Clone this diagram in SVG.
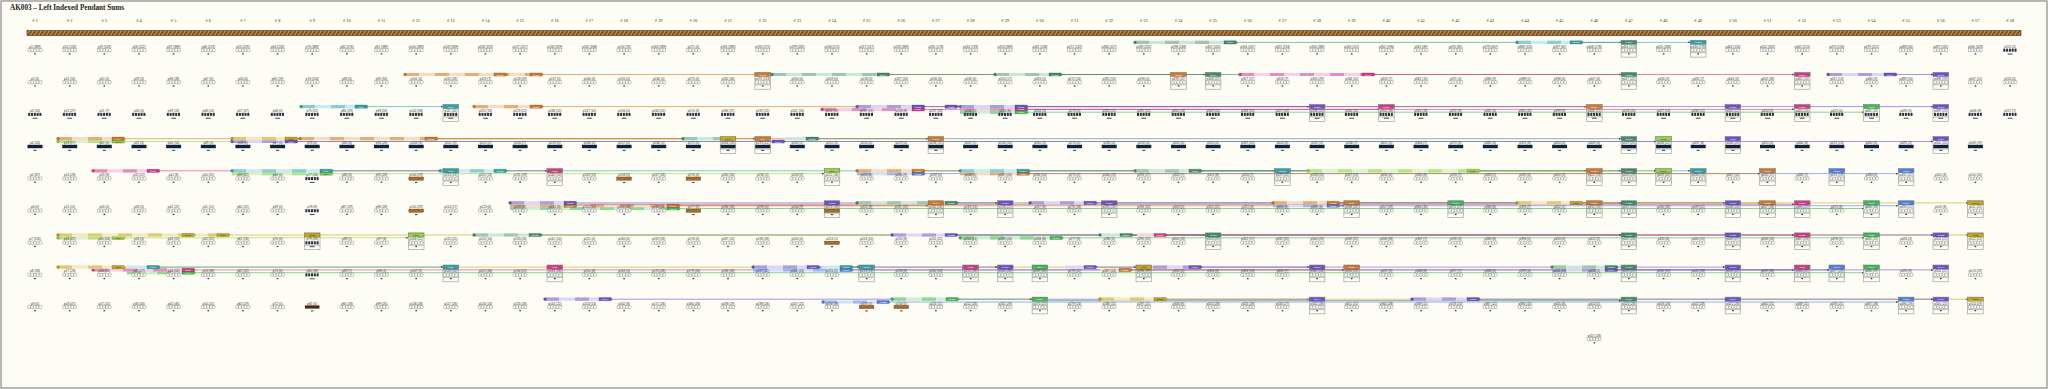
<svg xmlns="http://www.w3.org/2000/svg" xmlns:xlink="http://www.w3.org/1999/xlink" width="2048" height="389" viewBox="0 0 2048 389">
<style>
.ttl{font:bold 7.2px "Liberation Serif",serif;fill:#222}
.hd text{font:4.4px "Liberation Serif",serif;fill:#333;text-anchor:middle}
.r text{font:3.1px "Liberation Sans",sans-serif;fill:#333;text-anchor:middle;dominant-baseline:central}
.cell{fill:#fff;stroke:#555;stroke-width:.35}
.dk{fill:#2a2d3a}
.box{fill:none;stroke:#8a8a8a;stroke-width:.55}
.bd{fill:none;stroke:var(--l);stroke-width:3.2}
.dd{fill:none;stroke:var(--m);stroke-width:3.2;stroke-dasharray:14 16}
.ln{fill:none;stroke:var(--c);stroke-width:.8;stroke-opacity:.75;marker-end:url(#ah)}
.tg{fill:var(--c);stroke:#333;stroke-width:.25}
.tt{font:2.2px "Liberation Sans","DejaVu Sans",sans-serif;fill:#fff;text-anchor:middle;dominant-baseline:central}
.cl .tt,.cy .tt{fill:#222}
.cg{--c:#3d8c6c;--l:#cfe5d9;--m:#9cc8b1}
.ct{--c:#2aa3ad;--l:#c8ebed;--m:#86d0d5}
.co{--c:#d2782a;--l:#f5dcc4;--m:#e6ad78}
.cp{--c:#d8358a;--l:#f7d0e3;--m:#e98cbb}
.cu{--c:#6b4fcf;--l:#ddd6f3;--m:#ab9ce3}
.cl{--c:#92d443;--l:#dcf2c7;--m:#b3e685}
.cy{--c:#c9a61c;--l:#f3e8c0;--m:#e0c970}
.cb{--c:#4b7fe6;--l:#d3e0f8;--m:#9cb9f1}
.cn{--c:#3dbb4f;--l:#cdeed0;--m:#8dd896}
</style>
<defs>
<marker id="ah" viewBox="0 0 4 4" refX="4" refY="2" markerWidth="2.6" markerHeight="2.6" orient="auto"><path d="M0 0L4 2 0 4z" fill="#333"/></marker>
<pattern id="rope" x="0" y="30.5" width="4" height="5" patternUnits="userSpaceOnUse"><rect width="4" height="5" fill="#b98446"/><path d="M-1 6L5-1" stroke="#5a3812" stroke-width="1.2"/></pattern>
<g id="G"><rect class="cell" x="-7" y="1.8" width="2.6" height="3.2" rx=".6"/><rect class="cell" x="-4.2" y="1.8" width="2.6" height="3.2" rx=".6"/><rect class="cell" x="-1.4" y="1.8" width="2.6" height="3.2" rx=".6"/><rect class="cell" x="1.4" y="1.8" width="2.6" height="3.2" rx=".6"/><rect class="cell" x="4.2" y="1.8" width="2.6" height="3.2" rx=".6"/><rect x="-.8" y="6.6" width="1.6" height="1.2" fill="#333"/></g>
<g id="B"><rect class="dk" x="-6.8" y="2" width="2" height="3"/><rect class="dk" x="-4" y="2" width="2" height="3"/><rect class="dk" x="-1.2" y="2" width="2" height="3"/><rect class="dk" x="1.6" y="2" width="2" height="3"/><rect class="dk" x="4.4" y="2" width="2" height="3"/><rect x="-2.4" y="6.8" width="4.8" height="1.1" fill="#555"/></g>
<g id="C"><rect x="-7.5" y="1.8" width="15" height="3.4" fill="#0f2238"/><rect x="-1.5" y="6.8" width="3" height="1.1" fill="#444"/></g>
<g id="R"><rect x="-7.3" y="1.9" width="14.6" height="3.2" fill="#a86a2e" stroke="#5e3914" stroke-width=".4"/><rect x="-1.2" y="6.8" width="2.4" height="1.1" fill="#444"/></g>
<g id="D"><rect x="-7.3" y="1.9" width="14.6" height="3.2" fill="#4a2616"/><rect x="-1.2" y="6.8" width="2.4" height="1.1" fill="#444"/></g>
<g id="X"><rect class="box" x="-7.8" y="-6.4" width="15.6" height="16.8"/><path class="box" d="M-7.8 6H7.8"/></g>
</defs>
<rect x="1" y="1" width="2046" height="387" fill="#fdfdf5" stroke="#a0a0a0" stroke-width="1.5"/>
<text class="ttl" x="10" y="9.5">AK003 – Left Indexed Pendant Sums</text>
<g class="hd" id="headers">
<text x="35" y="21.5"># 1</text><text x="69.7" y="21.5"># 2</text><text x="104.3" y="21.5"># 3</text><text x="139" y="21.5"># 4</text><text x="173.6" y="21.5"># 5</text><text x="208.3" y="21.5"># 6</text><text x="242.9" y="21.5"># 7</text><text x="277.6" y="21.5"># 8</text><text x="312.2" y="21.5"># 9</text><text x="346.9" y="21.5"># 10</text><text x="381.5" y="21.5"># 11</text><text x="416.2" y="21.5"># 12</text><text x="450.8" y="21.5"># 13</text><text x="485.5" y="21.5"># 14</text><text x="520.1" y="21.5"># 15</text><text x="554.8" y="21.5"># 16</text><text x="589.4" y="21.5"># 17</text><text x="624.1" y="21.5"># 18</text><text x="658.7" y="21.5"># 19</text><text x="693.4" y="21.5"># 20</text><text x="728" y="21.5"># 21</text><text x="762.7" y="21.5"># 22</text><text x="797.3" y="21.5"># 23</text><text x="832" y="21.5"># 24</text><text x="866.6" y="21.5"># 25</text><text x="901.3" y="21.5"># 26</text><text x="935.9" y="21.5"># 27</text><text x="970.6" y="21.5"># 28</text><text x="1005.2" y="21.5"># 29</text><text x="1039.9" y="21.5"># 30</text><text x="1074.5" y="21.5"># 31</text><text x="1109.2" y="21.5"># 32</text><text x="1143.8" y="21.5"># 33</text><text x="1178.5" y="21.5"># 34</text><text x="1213.1" y="21.5"># 35</text><text x="1247.8" y="21.5"># 36</text><text x="1282.4" y="21.5"># 37</text><text x="1317.1" y="21.5"># 38</text><text x="1351.7" y="21.5"># 39</text><text x="1386.4" y="21.5"># 40</text><text x="1421" y="21.5"># 41</text><text x="1455.7" y="21.5"># 42</text><text x="1490.3" y="21.5"># 43</text><text x="1525" y="21.5"># 44</text><text x="1559.6" y="21.5"># 45</text><text x="1594.3" y="21.5"># 46</text><text x="1628.9" y="21.5"># 47</text><text x="1663.6" y="21.5"># 48</text><text x="1698.2" y="21.5"># 49</text><text x="1732.9" y="21.5"># 50</text><text x="1767.5" y="21.5"># 51</text><text x="1802.2" y="21.5"># 52</text><text x="1836.8" y="21.5"># 53</text><text x="1871.5" y="21.5"># 54</text><text x="1906.1" y="21.5"># 55</text><text x="1940.8" y="21.5"># 56</text><text x="1975.4" y="21.5"># 57</text><text x="2010.1" y="21.5"># 58</text>
</g>
<rect id="cord" x="27" y="30.5" width="1994" height="5" fill="url(#rope)" stroke="#4a2d0e" stroke-width=".6"/>
<g id="connectors">
<g transform="translate(0 42.4)">
<g class="cg"><path class="bd" d="M1135 0H1224"/><path class="dd" d="M1135 0H1224"/><circle class="tg" cx="1135" r="1.4"/><path class="ln" d="M1237.4 0H1621"/><path class="tg" d="M1224-1.6h12l1.4 1.6-1.4 1.6h-12z"/><text class="tt" x="1230">↦p289</text></g>
<g class="ct"><path class="bd" d="M1517 0H1570"/><path class="dd" d="M1517 0H1570"/><circle class="tg" cx="1517" r="1.4"/><path class="ln" d="M1583.4 0H1690.4"/><path class="tg" d="M1570-1.6h12l1.4 1.6-1.4 1.6h-12z"/><text class="tt" x="1576">↦p388</text></g>
<g class="cg"><rect class="tg" x="1621.1" y="-2" width="15.6" height="4"/><text class="tt" x="1628.9">↦p289</text></g>
<g class="ct"><rect class="tg" x="1690.4" y="-2" width="15.6" height="4"/><text class="tt" x="1698.2">↦p388</text></g>
</g>
<g transform="translate(0 74.5)">
<g class="co"><path class="bd" d="M405 0H530"/><path class="dd" d="M405 0H530"/><circle class="tg" cx="405" r="1.4"/><path class="ln" d="M543.4 0H1170.7"/><path class="tg" d="M494-1.6h12l1.4 1.6-1.4 1.6h-12z"/><text class="tt" x="500">↦p128</text><path class="tg" d="M530-1.6h12l1.4 1.6-1.4 1.6h-12z"/><text class="tt" x="536">↦p137</text></g>
<g class="cg"><path class="bd" d="M772 0H877"/><path class="dd" d="M772 0H877"/><circle class="tg" cx="772" r="1.4"/><path class="ln" d="M890.4 0H1205.3"/><path class="tg" d="M877-1.6h12l1.4 1.6-1.4 1.6h-12z"/><text class="tt" x="883">↦p191</text></g>
<g class="cg"><path class="bd" d="M995 0H1049"/><path class="dd" d="M995 0H1049"/><circle class="tg" cx="995" r="1.4"/><path class="ln" d="M1062.4 0H1621.1"/><path class="tg" d="M1049-1.6h12l1.4 1.6-1.4 1.6h-12z"/><text class="tt" x="1055">↦p263</text></g>
<g class="cp"><path class="bd" d="M1240 0H1362"/><path class="dd" d="M1240 0H1362"/><circle class="tg" cx="1240" r="1.4"/><path class="ln" d="M1375.4 0H1794.4"/><path class="tg" d="M1362-1.6h12l1.4 1.6-1.4 1.6h-12z"/><text class="tt" x="1368">↦p344</text></g>
<g class="cu"><path class="bd" d="M1828 0H1884"/><path class="dd" d="M1828 0H1884"/><circle class="tg" cx="1828" r="1.4"/><path class="ln" d="M1897.4 0H1933"/><path class="tg" d="M1884-1.6h12l1.4 1.6-1.4 1.6h-12z"/><text class="tt" x="1890">↦p480</text></g>
<g class="co"><rect class="tg" x="754.9" y="-2" width="15.6" height="4"/><text class="tt" x="762.7">↦p137</text><rect class="tg" x="1170.7" y="-2" width="15.6" height="4"/><text class="tt" x="1178.5">↦p137</text></g>
<g class="cg"><rect class="tg" x="1205.3" y="-2" width="15.6" height="4"/><text class="tt" x="1213.1">↦p191</text><rect class="tg" x="1621.1" y="-2" width="15.6" height="4"/><text class="tt" x="1628.9">↦p263</text></g>
<g class="cp"><rect class="tg" x="1794.4" y="-2" width="15.6" height="4"/><text class="tt" x="1802.2">↦p344</text></g>
<g class="cu"><rect class="tg" x="1933" y="-2" width="15.6" height="4"/><text class="tt" x="1940.8">↦p480</text></g>
</g>
<g transform="translate(0 106.6)">
<g class="ct"><path class="bd" d="M301 0H355"/><path class="dd" d="M301 0H355"/><circle class="tg" cx="301" r="1.4"/><path class="ln" d="M368.4 0H443"/><path class="tg" d="M355-1.6h12l1.4 1.6-1.4 1.6h-12z"/><text class="tt" x="361">↦p84</text></g>
<g class="co"><path class="bd" d="M474 0H530"/><path class="dd" d="M474 0H530"/><circle class="tg" cx="474" r="1.4"/><path class="ln" d="M543.4 0H1586.5"/><path class="tg" d="M530-1.6h12l1.4 1.6-1.4 1.6h-12z"/><text class="tt" x="536">↦p129</text></g>
<g class="cp" transform="translate(0 2.8)"><path class="bd" d="M822 0H912"/><path class="dd" d="M822 0H912"/><circle class="tg" cx="822" r="1.4"/><path class="ln" d="M925.4 0H1378.6"/><path class="tg" d="M912-1.6h12l1.4 1.6-1.4 1.6h-12z"/><text class="tt" x="918">↦p219</text></g>
<g class="cu"><path class="bd" d="M857 0H912"/><path class="dd" d="M857 0H912"/><circle class="tg" cx="857" r="1.4"/><path class="ln" d="M925.4 0H1309.3"/><path class="tg" d="M912-1.6h12l1.4 1.6-1.4 1.6h-12z"/><text class="tt" x="918">↦p228</text><path class="tg" d="M945-1.6h12l1.4 1.6-1.4 1.6h-12z"/><text class="tt" x="951">↦p237</text></g>
<g class="cp" transform="translate(0 2.8)"><path class="bd" d="M960 0H1015"/><path class="dd" d="M960 0H1015"/><path class="ln" d="M1028.4 0H1794.4"/><path class="tg" d="M1015-1.6h12l1.4 1.6-1.4 1.6h-12z"/><text class="tt" x="1021">↦p255</text></g>
<g class="cn" transform="translate(0 5.6)"><path class="bd" d="M960 0H1015"/><path class="dd" d="M960 0H1015"/><path class="ln" d="M1028.4 0H1863.7"/><path class="tg" d="M1015-1.6h12l1.4 1.6-1.4 1.6h-12z"/><text class="tt" x="1021">↦p264</text></g>
<g class="cu"><path class="bd" d="M960 0H1015"/><path class="dd" d="M960 0H1015"/><circle class="tg" cx="960" r="1.4"/><path class="ln" d="M1028.4 0H1933"/><path class="tg" d="M1015-1.6h12l1.4 1.6-1.4 1.6h-12z"/><text class="tt" x="1021">↦p273</text></g>
<g class="ct"><rect class="tg" x="443" y="-2" width="15.6" height="4"/><text class="tt" x="450.8">↦p84</text></g>
<g class="cu"><rect class="tg" x="1309.3" y="-2" width="15.6" height="4"/><text class="tt" x="1317.1">↦p228</text><rect class="tg" x="1725.1" y="-2" width="15.6" height="4"/><text class="tt" x="1732.9">↦p273</text><rect class="tg" x="1933" y="-2" width="15.6" height="4"/><text class="tt" x="1940.8">↦p273</text></g>
<g class="cp"><rect class="tg" x="1378.6" y="-2" width="15.6" height="4"/><text class="tt" x="1386.4">↦p219</text><rect class="tg" x="1794.4" y="-2" width="15.6" height="4"/><text class="tt" x="1802.2">↦p255</text></g>
<g class="co"><rect class="tg" x="1586.5" y="-2" width="15.6" height="4"/><text class="tt" x="1594.3">↦p129</text></g>
<g class="cn"><rect class="tg" x="1863.7" y="-2" width="15.6" height="4"/><text class="tt" x="1871.5">↦p264</text></g>
</g>
<g transform="translate(0 138.7)">
<g class="cl" transform="translate(0 2.8)"><path class="bd" d="M58 0H112"/><path class="dd" d="M58 0H112"/><circle class="tg" cx="58" r="1.4"/><path class="ln" d="M125.4 0H1655.8"/><path class="tg" d="M112-1.6h12l1.4 1.6-1.4 1.6h-12z"/><text class="tt" x="118">↦p13</text></g>
<g class="cu" transform="translate(0 2.8)"><path class="bd" d="M232 0H285"/><path class="dd" d="M232 0H285"/><circle class="tg" cx="232" r="1.4"/><path class="ln" d="M298.4 0H1933"/><path class="tg" d="M285-1.6h12l1.4 1.6-1.4 1.6h-12z"/><text class="tt" x="291">↦p58</text><path class="tg" d="M772-1.6h12l1.4 1.6-1.4 1.6h-12z"/><text class="tt" x="778">↦p193</text></g>
<g class="co"><path class="bd" d="M58 0H112"/><path class="dd" d="M58 0H112"/><circle class="tg" cx="58" r="1.4"/><path class="ln" d="M125.4 0H754.9"/><path class="tg" d="M112-1.6h12l1.4 1.6-1.4 1.6h-12z"/><text class="tt" x="118">↦p4</text></g>
<g class="cy"><path class="bd" d="M232 0H285"/><path class="dd" d="M232 0H285"/><circle class="tg" cx="232" r="1.4"/><path class="ln" d="M298.4 0H720.2"/><path class="tg" d="M285-1.6h12l1.4 1.6-1.4 1.6h-12z"/><text class="tt" x="291">↦p67</text></g>
<g class="co"><path class="bd" d="M300 0H425"/><path class="dd" d="M300 0H425"/><circle class="tg" cx="300" r="1.4"/><path class="ln" d="M438.4 0H928.1"/><path class="tg" d="M425-1.6h12l1.4 1.6-1.4 1.6h-12z"/><text class="tt" x="431">↦p121</text></g>
<g class="cg"><path class="bd" d="M683 0H720"/><path class="dd" d="M683 0H720"/><circle class="tg" cx="683" r="1.4"/><path class="bd" d="M785 0H806"/><path class="ln" d="M819.4 0H1621.1"/><path class="tg" d="M806-1.6h12l1.4 1.6-1.4 1.6h-12z"/><text class="tt" x="812">↦p202</text></g>
<g class="cy"><rect class="tg" x="720.2" y="-2" width="15.6" height="4"/><text class="tt" x="728">↦p67</text></g>
<g class="co"><rect class="tg" x="754.9" y="-2" width="15.6" height="4"/><text class="tt" x="762.7">↦p4</text><rect class="tg" x="928.1" y="-2" width="15.6" height="4"/><text class="tt" x="935.9">↦p121</text></g>
<g class="cg"><rect class="tg" x="1621.1" y="-2" width="15.6" height="4"/><text class="tt" x="1628.9">↦p202</text></g>
<g class="cl"><rect class="tg" x="1655.8" y="-2" width="15.6" height="4"/><text class="tt" x="1663.6">↦p13</text></g>
<g class="cu"><rect class="tg" x="1725.1" y="-2" width="15.6" height="4"/><text class="tt" x="1732.9">↦p58</text><rect class="tg" x="1933" y="-2" width="15.6" height="4"/><text class="tt" x="1940.8">↦p58</text></g>
</g>
<g transform="translate(0 170.8)">
<g class="cl" transform="translate(0 2.8)"><path class="bd" d="M232 0H320"/><path class="dd" d="M232 0H320"/><path class="ln" d="M333.4 0H824.2"/><path class="tg" d="M320-1.6h12l1.4 1.6-1.4 1.6h-12z"/><text class="tt" x="326">↦p68</text></g>
<g class="cb" transform="translate(0 2.8)"><path class="bd" d="M857 0H912"/><path class="dd" d="M857 0H912"/><path class="ln" d="M925.4 0H1898.3"/><path class="tg" d="M912-1.6h12l1.4 1.6-1.4 1.6h-12z"/><text class="tt" x="918">↦p230</text></g>
<g class="co" transform="translate(0 2.8)"><path class="bd" d="M960 0H1017"/><path class="dd" d="M960 0H1017"/><path class="ln" d="M1030.4 0H1759.7"/><path class="tg" d="M1017-1.6h12l1.4 1.6-1.4 1.6h-12z"/><text class="tt" x="1023">↦p257</text></g>
<g class="cp"><path class="bd" d="M93 0H147"/><path class="dd" d="M93 0H147"/><circle class="tg" cx="93" r="1.4"/><path class="ln" d="M160.4 0H547"/><path class="tg" d="M147-1.6h12l1.4 1.6-1.4 1.6h-12z"/><text class="tt" x="153">↦p23</text></g>
<g class="ct"><path class="bd" d="M232 0H320"/><path class="dd" d="M232 0H320"/><circle class="tg" cx="232" r="1.4"/><path class="ln" d="M333.4 0H443"/><path class="tg" d="M320-1.6h12l1.4 1.6-1.4 1.6h-12z"/><text class="tt" x="326">↦p59</text></g>
<g class="ct"><path class="bd" d="M440 0H494"/><path class="dd" d="M440 0H494"/><circle class="tg" cx="440" r="1.4"/><path class="ln" d="M507.4 0H1274.6"/><path class="tg" d="M494-1.6h12l1.4 1.6-1.4 1.6h-12z"/><text class="tt" x="500">↦p122</text></g>
<g class="co"><path class="bd" d="M857 0H912"/><path class="dd" d="M857 0H912"/><circle class="tg" cx="857" r="1.4"/><path class="ln" d="M925.4 0H1586.5"/><path class="tg" d="M912-1.6h12l1.4 1.6-1.4 1.6h-12z"/><text class="tt" x="918">↦p221</text></g>
<g class="ct"><path class="bd" d="M960 0H1017"/><path class="dd" d="M960 0H1017"/><circle class="tg" cx="960" r="1.4"/><path class="ln" d="M1030.4 0H1690.4"/><path class="tg" d="M1017-1.6h12l1.4 1.6-1.4 1.6h-12z"/><text class="tt" x="1023">↦p248</text></g>
<g class="cg"><path class="bd" d="M1135 0H1189"/><path class="dd" d="M1135 0H1189"/><circle class="tg" cx="1135" r="1.4"/><path class="ln" d="M1202.4 0H1621.1"/><path class="tg" d="M1189-1.6h12l1.4 1.6-1.4 1.6h-12z"/><text class="tt" x="1195">↦p293</text></g>
<g class="cl"><path class="bd" d="M1308 0H1467"/><path class="dd" d="M1308 0H1467"/><circle class="tg" cx="1308" r="1.4"/><path class="ln" d="M1480.4 0H1655.8"/><path class="tg" d="M1467-1.6h12l1.4 1.6-1.4 1.6h-12z"/><text class="tt" x="1473">↦p374</text></g>
<g class="ct"><rect class="tg" x="443" y="-2" width="15.6" height="4"/><text class="tt" x="450.8">↦p59</text><rect class="tg" x="1274.6" y="-2" width="15.6" height="4"/><text class="tt" x="1282.4">↦p122</text><rect class="tg" x="1690.4" y="-2" width="15.6" height="4"/><text class="tt" x="1698.2">↦p248</text></g>
<g class="cp"><rect class="tg" x="547" y="-2" width="15.6" height="4"/><text class="tt" x="554.8">↦p23</text></g>
<g class="cl"><rect class="tg" x="824.2" y="-2" width="15.6" height="4"/><text class="tt" x="832">↦p68</text><rect class="tg" x="1655.8" y="-2" width="15.6" height="4"/><text class="tt" x="1663.6">↦p374</text></g>
<g class="co"><rect class="tg" x="1586.5" y="-2" width="15.6" height="4"/><text class="tt" x="1594.3">↦p221</text><rect class="tg" x="1759.7" y="-2" width="15.6" height="4"/><text class="tt" x="1767.5">↦p257</text></g>
<g class="cg"><rect class="tg" x="1621.1" y="-2" width="15.6" height="4"/><text class="tt" x="1628.9">↦p293</text></g>
<g class="cb"><rect class="tg" x="1829" y="-2" width="15.6" height="4"/><text class="tt" x="1836.8">↦p230</text><rect class="tg" x="1898.3" y="-2" width="15.6" height="4"/><text class="tt" x="1906.1">↦p230</text></g>
</g>
<g transform="translate(0 202.9)">
<g class="cn" transform="translate(0 5.6)"><path class="bd" d="M510 0H667"/><path class="dd" d="M510 0H667"/><path class="ln" d="M680.4 0H1863.7"/><path class="tg" d="M667-1.6h12l1.4 1.6-1.4 1.6h-12z"/><text class="tt" x="673">↦p168</text></g>
<g class="co" transform="translate(0 2.8)"><path class="bd" d="M510 0H564"/><path class="dd" d="M510 0H564"/><path class="ln" d="M577.4 0H928.1"/><path class="tg" d="M564-1.6h12l1.4 1.6-1.4 1.6h-12z"/><text class="tt" x="570">↦p141</text><path class="bd" d="M590 0H667"/><path class="dd" d="M590 0H667"/><path class="ln" d="M680.4 0H1343.9"/><path class="tg" d="M667-1.6h12l1.4 1.6-1.4 1.6h-12z"/><text class="tt" x="673">↦p159</text></g>
<g class="cb" transform="translate(0 2.8)"><path class="bd" d="M1273 0H1327"/><path class="dd" d="M1273 0H1327"/><path class="ln" d="M1340.4 0H1898.3"/><path class="tg" d="M1327-1.6h12l1.4 1.6-1.4 1.6h-12z"/><text class="tt" x="1333">↦p339</text></g>
<g class="cp" transform="translate(0 1.4)"><path class="ln" d="M577.4 0H1794.4"/></g>
<g class="cu"><path class="bd" d="M510 0H564"/><path class="dd" d="M510 0H564"/><circle class="tg" cx="510" r="1.4"/><path class="ln" d="M577.4 0H997.4"/><path class="tg" d="M564-1.6h12l1.4 1.6-1.4 1.6h-12z"/><text class="tt" x="570">↦p132</text></g>
<g class="cg"><path class="bd" d="M857 0H945"/><path class="dd" d="M857 0H945"/><circle class="tg" cx="857" r="1.4"/><path class="ln" d="M958.4 0H1621.1"/><path class="tg" d="M945-1.6h12l1.4 1.6-1.4 1.6h-12z"/><text class="tt" x="951">↦p222</text></g>
<g class="cu"><path class="bd" d="M1030 0H1084"/><path class="dd" d="M1030 0H1084"/><circle class="tg" cx="1030" r="1.4"/><path class="ln" d="M1097.4 0H1725.1"/><path class="tg" d="M1084-1.6h12l1.4 1.6-1.4 1.6h-12z"/><text class="tt" x="1090">↦p267</text></g>
<g class="co"><path class="bd" d="M1273 0H1327"/><path class="dd" d="M1273 0H1327"/><circle class="tg" cx="1273" r="1.4"/><path class="ln" d="M1340.4 0H1759.7"/><path class="tg" d="M1327-1.6h12l1.4 1.6-1.4 1.6h-12z"/><text class="tt" x="1333">↦p330</text></g>
<g class="cy"><path class="bd" d="M1517 0H1570"/><path class="dd" d="M1517 0H1570"/><circle class="tg" cx="1517" r="1.4"/><path class="ln" d="M1583.4 0H1967.6"/><path class="tg" d="M1570-1.6h12l1.4 1.6-1.4 1.6h-12z"/><text class="tt" x="1576">↦p393</text></g>
<g class="cu"><rect class="tg" x="824.2" y="-2" width="15.6" height="4"/><text class="tt" x="832">↦p132</text><rect class="tg" x="997.4" y="-2" width="15.6" height="4"/><text class="tt" x="1005.2">↦p132</text><rect class="tg" x="1101.4" y="-2" width="15.6" height="4"/><text class="tt" x="1109.2">↦p267</text><rect class="tg" x="1725.1" y="-2" width="15.6" height="4"/><text class="tt" x="1732.9">↦p267</text></g>
<g class="co"><rect class="tg" x="928.1" y="-2" width="15.6" height="4"/><text class="tt" x="935.9">↦p141</text><rect class="tg" x="1343.9" y="-2" width="15.6" height="4"/><text class="tt" x="1351.7">↦p159</text><rect class="tg" x="1586.5" y="-2" width="15.6" height="4"/><text class="tt" x="1594.3">↦p330</text><rect class="tg" x="1759.7" y="-2" width="15.6" height="4"/><text class="tt" x="1767.5">↦p330</text></g>
<g class="cn"><rect class="tg" x="1447.9" y="-2" width="15.6" height="4"/><text class="tt" x="1455.7">↦p168</text><rect class="tg" x="1863.7" y="-2" width="15.6" height="4"/><text class="tt" x="1871.5">↦p168</text></g>
<g class="cg"><rect class="tg" x="1621.1" y="-2" width="15.6" height="4"/><text class="tt" x="1628.9">↦p222</text></g>
<g class="cp"><rect class="tg" x="1794.4" y="-2" width="15.6" height="4"/><text class="tt" x="1802.2">↦p150</text></g>
<g class="cb"><rect class="tg" x="1898.3" y="-2" width="15.6" height="4"/><text class="tt" x="1906.1">↦p339</text></g>
<g class="cy"><rect class="tg" x="1967.6" y="-2" width="15.6" height="4"/><text class="tt" x="1975.4">↦p393</text></g>
</g>
<g transform="translate(0 235)">
<g class="cl" transform="translate(0 2.8)"><path class="bd" d="M58 0H112"/><path class="dd" d="M58 0H112"/><circle class="tg" cx="58" r="1.4"/><path class="ln" d="M125.4 0H408.4"/><path class="tg" d="M112-1.6h12l1.4 1.6-1.4 1.6h-12z"/><text class="tt" x="118">↦p16</text></g>
<g class="cn" transform="translate(0 2.8)"><path class="bd" d="M960 0H1050"/><path class="dd" d="M960 0H1050"/><circle class="tg" cx="960" r="1.4"/><path class="ln" d="M1063.4 0H1863.7"/><path class="tg" d="M1050-1.6h12l1.4 1.6-1.4 1.6h-12z"/><text class="tt" x="1056">↦p259</text></g>
<g class="cy"><path class="bd" d="M58 0H217"/><path class="dd" d="M58 0H217"/><circle class="tg" cx="58" r="1.4"/><path class="ln" d="M230.4 0H1967.6"/><path class="tg" d="M182-1.6h12l1.4 1.6-1.4 1.6h-12z"/><text class="tt" x="188">↦p43</text><path class="tg" d="M217-1.6h12l1.4 1.6-1.4 1.6h-12z"/><text class="tt" x="223">↦p52</text></g>
<g class="cg"><path class="bd" d="M474 0H529"/><path class="dd" d="M474 0H529"/><circle class="tg" cx="474" r="1.4"/><path class="ln" d="M542.4 0H1205.3"/><path class="tg" d="M529-1.6h12l1.4 1.6-1.4 1.6h-12z"/><text class="tt" x="535">↦p133</text></g>
<g class="cu"><path class="bd" d="M892 0H945"/><path class="dd" d="M892 0H945"/><circle class="tg" cx="892" r="1.4"/><path class="ln" d="M958.4 0H1933"/><path class="tg" d="M945-1.6h12l1.4 1.6-1.4 1.6h-12z"/><text class="tt" x="951">↦p232</text></g>
<g class="cg"><path class="bd" d="M1100 0H1120"/><circle class="tg" cx="1100" r="1.4"/><path class="ln" d="M1133.4 0H1621.1"/><path class="tg" d="M1120-1.6h12l1.4 1.6-1.4 1.6h-12z"/><text class="tt" x="1126">↦p286</text></g>
<g class="cp"><path class="bd" d="M1137 0H1154"/><path class="ln" d="M1167.4 0H1794.4"/><path class="tg" d="M1154-1.6h12l1.4 1.6-1.4 1.6h-12z"/><text class="tt" x="1160">↦p295</text></g>
<g class="cy"><rect class="tg" x="304.4" y="-2" width="15.6" height="4"/><text class="tt" x="312.2">↦p52</text><rect class="tg" x="1967.6" y="-2" width="15.6" height="4"/><text class="tt" x="1975.4">↦p52</text></g>
<g class="cl"><rect class="tg" x="408.4" y="-2" width="15.6" height="4"/><text class="tt" x="416.2">↦p16</text></g>
<g class="cg"><rect class="tg" x="1205.3" y="-2" width="15.6" height="4"/><text class="tt" x="1213.1">↦p133</text><rect class="tg" x="1621.1" y="-2" width="15.6" height="4"/><text class="tt" x="1628.9">↦p286</text></g>
<g class="cu"><rect class="tg" x="1725.1" y="-2" width="15.6" height="4"/><text class="tt" x="1732.9">↦p232</text><rect class="tg" x="1933" y="-2" width="15.6" height="4"/><text class="tt" x="1940.8">↦p232</text></g>
<g class="cp"><rect class="tg" x="1794.4" y="-2" width="15.6" height="4"/><text class="tt" x="1802.2">↦p295</text></g>
<g class="cn"><rect class="tg" x="1863.7" y="-2" width="15.6" height="4"/><text class="tt" x="1871.5">↦p259</text></g>
</g>
<g transform="translate(0 267.1)">
<g class="cn" transform="translate(0 5.6)"><path class="bd" d="M127 0H182"/><path class="dd" d="M127 0H182"/><path class="ln" d="M195.4 0H1863.7"/><path class="tg" d="M182-1.6h12l1.4 1.6-1.4 1.6h-12z"/><text class="tt" x="188">↦p44</text></g>
<g class="cp" transform="translate(0 2.8)"><path class="bd" d="M93 0H182"/><path class="dd" d="M93 0H182"/><circle class="tg" cx="93" r="1.4"/><path class="ln" d="M195.4 0H1794.4"/><path class="tg" d="M182-1.6h12l1.4 1.6-1.4 1.6h-12z"/><text class="tt" x="188">↦p35</text></g>
<g class="cb" transform="translate(0 2.8)"><path class="bd" d="M753 0H840"/><path class="dd" d="M753 0H840"/><path class="ln" d="M853.4 0H1829"/><path class="tg" d="M840-1.6h12l1.4 1.6-1.4 1.6h-12z"/><text class="tt" x="846">↦p197</text></g>
<g class="co" transform="translate(0 2.8)"><path class="bd" d="M1100 0H1119"/><path class="ln" d="M1132.4 0H1343.9"/><path class="tg" d="M1119-1.6h12l1.4 1.6-1.4 1.6h-12z"/><text class="tt" x="1125">↦p287</text></g>
<g class="cu" transform="translate(0 2.8)"><path class="bd" d="M1552 0H1605"/><path class="dd" d="M1552 0H1605"/><path class="ln" d="M1618.4 0H1933"/><path class="tg" d="M1605-1.6h12l1.4 1.6-1.4 1.6h-12z"/><text class="tt" x="1611">↦p404</text></g>
<g class="cy"><path class="bd" d="M58 0H112"/><path class="dd" d="M58 0H112"/><circle class="tg" cx="58" r="1.4"/><path class="ln" d="M125.4 0H1136"/><path class="tg" d="M112-1.6h12l1.4 1.6-1.4 1.6h-12z"/><text class="tt" x="118">↦p17</text></g>
<g class="ct"><path class="bd" d="M127 0H147"/><path class="ln" d="M160.4 0H443"/><path class="tg" d="M147-1.6h12l1.4 1.6-1.4 1.6h-12z"/><text class="tt" x="153">↦p26</text></g>
<g class="cu"><path class="bd" d="M753 0H807"/><path class="dd" d="M753 0H807"/><circle class="tg" cx="753" r="1.4"/><path class="ln" d="M820.4 0H997.4"/><path class="tg" d="M807-1.6h12l1.4 1.6-1.4 1.6h-12z"/><text class="tt" x="813">↦p188</text></g>
<g class="ct"><path class="bd" d="M822 0H840"/><path class="ln" d="M853.4 0H858.8"/><path class="tg" d="M840-1.6h12l1.4 1.6-1.4 1.6h-12z"/><text class="tt" x="846">↦p206</text></g>
<g class="cu"><path class="bd" d="M1065 0H1084"/><path class="ln" d="M1097.4 0H1309.3"/><path class="tg" d="M1084-1.6h12l1.4 1.6-1.4 1.6h-12z"/><text class="tt" x="1090">↦p278</text></g>
<g class="cu"><path class="bd" d="M1153 0H1189"/><path class="dd" d="M1153 0H1189"/><path class="ln" d="M1202.4 0H1725.1"/><path class="tg" d="M1189-1.6h12l1.4 1.6-1.4 1.6h-12z"/><text class="tt" x="1195">↦p296</text></g>
<g class="cg"><path class="bd" d="M1552 0H1605"/><path class="dd" d="M1552 0H1605"/><circle class="tg" cx="1552" r="1.4"/><path class="tg" d="M1605-1.6h12l1.4 1.6-1.4 1.6h-12z"/><text class="tt" x="1611">↦p395</text></g>
<g class="ct"><rect class="tg" x="443" y="-2" width="15.6" height="4"/><text class="tt" x="450.8">↦p26</text><rect class="tg" x="858.8" y="-2" width="15.6" height="4"/><text class="tt" x="866.6">↦p206</text></g>
<g class="cp"><rect class="tg" x="547" y="-2" width="15.6" height="4"/><text class="tt" x="554.8">↦p35</text><rect class="tg" x="962.8" y="-2" width="15.6" height="4"/><text class="tt" x="970.6">↦p35</text><rect class="tg" x="1794.4" y="-2" width="15.6" height="4"/><text class="tt" x="1802.2">↦p35</text></g>
<g class="cu"><rect class="tg" x="997.4" y="-2" width="15.6" height="4"/><text class="tt" x="1005.2">↦p188</text><rect class="tg" x="1309.3" y="-2" width="15.6" height="4"/><text class="tt" x="1317.1">↦p278</text><rect class="tg" x="1725.1" y="-2" width="15.6" height="4"/><text class="tt" x="1732.9">↦p296</text><rect class="tg" x="1933" y="-2" width="15.6" height="4"/><text class="tt" x="1940.8">↦p404</text></g>
<g class="cn"><rect class="tg" x="1032.1" y="-2" width="15.6" height="4"/><text class="tt" x="1039.9">↦p44</text><rect class="tg" x="1863.7" y="-2" width="15.6" height="4"/><text class="tt" x="1871.5">↦p44</text></g>
<g class="cy"><rect class="tg" x="1136" y="-2" width="15.6" height="4"/><text class="tt" x="1143.8">↦p17</text></g>
<g class="co"><rect class="tg" x="1343.9" y="-2" width="15.6" height="4"/><text class="tt" x="1351.7">↦p287</text></g>
<g class="cg"><rect class="tg" x="1621.1" y="-2" width="15.6" height="4"/><text class="tt" x="1628.9">↦p395</text></g>
<g class="cb"><rect class="tg" x="1829" y="-2" width="15.6" height="4"/><text class="tt" x="1836.8">↦p197</text></g>
</g>
<g transform="translate(0 299.2)">
<g class="cb" transform="translate(0 2.8)"><path class="bd" d="M823 0H877"/><path class="dd" d="M823 0H877"/><circle class="tg" cx="823" r="1.4"/><path class="ln" d="M890.4 0H1898.3"/><path class="tg" d="M877-1.6h12l1.4 1.6-1.4 1.6h-12z"/><text class="tt" x="883">↦p225</text></g>
<g class="cg" transform="translate(0 1.4)"><path class="ln" d="M1048 0H1621.1"/></g>
<g class="cu"><path class="bd" d="M545 0H599"/><path class="dd" d="M545 0H599"/><circle class="tg" cx="545" r="1.4"/><path class="ln" d="M612.4 0H1309.3"/><path class="tg" d="M599-1.6h12l1.4 1.6-1.4 1.6h-12z"/><text class="tt" x="605">↦p144</text></g>
<g class="cn"><path class="bd" d="M892 0H946"/><path class="dd" d="M892 0H946"/><circle class="tg" cx="892" r="1.4"/><path class="ln" d="M959.4 0H1032.1"/><path class="tg" d="M946-1.6h12l1.4 1.6-1.4 1.6h-12z"/><text class="tt" x="952">↦p234</text></g>
<g class="cy"><path class="bd" d="M1100 0H1154"/><path class="dd" d="M1100 0H1154"/><circle class="tg" cx="1100" r="1.4"/><path class="ln" d="M1167.4 0H1967.6"/><path class="tg" d="M1154-1.6h12l1.4 1.6-1.4 1.6h-12z"/><text class="tt" x="1160">↦p288</text></g>
<g class="cu"><path class="bd" d="M1412 0H1467"/><path class="dd" d="M1412 0H1467"/><circle class="tg" cx="1412" r="1.4"/><path class="ln" d="M1480.4 0H1933"/><path class="tg" d="M1467-1.6h12l1.4 1.6-1.4 1.6h-12z"/><text class="tt" x="1473">↦p369</text></g>
<g class="cn"><rect class="tg" x="1032.1" y="-2" width="15.6" height="4"/><text class="tt" x="1039.9">↦p234</text></g>
<g class="cu"><rect class="tg" x="1309.3" y="-2" width="15.6" height="4"/><text class="tt" x="1317.1">↦p144</text><rect class="tg" x="1725.1" y="-2" width="15.6" height="4"/><text class="tt" x="1732.9">↦p369</text><rect class="tg" x="1933" y="-2" width="15.6" height="4"/><text class="tt" x="1940.8">↦p369</text></g>
<g class="cg"><rect class="tg" x="1621.1" y="-2" width="15.6" height="4"/><text class="tt" x="1628.9">↦p270</text></g>
<g class="cb"><rect class="tg" x="1898.3" y="-2" width="15.6" height="4"/><text class="tt" x="1906.1">↦p225</text></g>
<g class="cy"><rect class="tg" x="1967.6" y="-2" width="15.6" height="4"/><text class="tt" x="1975.4">↦p288</text></g>
</g>
</g>
<g id="nodes">
<g class="r" id="row1" transform="translate(0 46.7)">
<g id="p1" transform="translate(35)"><use href="#G"/><text>p1 (389)</text></g>
<g id="p10" transform="translate(69.7)"><use href="#G"/><text>p10 (218)</text></g>
<g id="p19" transform="translate(104.3)"><use href="#G"/><text>p19 (149)</text></g>
<g id="p28" transform="translate(139)"><use href="#G"/><text>p28 (222)</text></g>
<g id="p37" transform="translate(173.6)"><use href="#G"/><text>p37 (389)</text></g>
<g id="p46" transform="translate(208.3)"><use href="#G"/><text>p46 (219)</text></g>
<g id="p55" transform="translate(242.9)"><use href="#G"/><text>p55 (229)</text></g>
<g id="p64" transform="translate(277.6)"><use href="#G"/><text>p64 (218)</text></g>
<g id="p73" transform="translate(312.2)"><use href="#G"/><text>p73 (389)</text></g>
<g id="p82" transform="translate(346.9)"><use href="#G"/><text>p82 (278)</text></g>
<g id="p91" transform="translate(381.5)"><use href="#G"/><text>p91 (389)</text></g>
<g id="p100" transform="translate(416.2)"><use href="#G"/><text>p100 (389)</text></g>
<g id="p109" transform="translate(450.8)"><use href="#G"/><text>p109 (389)</text></g>
<g id="p118" transform="translate(485.5)"><use href="#G"/><text>p118 (373)</text></g>
<g id="p127" transform="translate(520.1)"><use href="#G"/><text>p127 (217)</text></g>
<g id="p136" transform="translate(554.8)"><use href="#G"/><text>p136 (329)</text></g>
<g id="p145" transform="translate(589.4)"><use href="#G"/><text>p145 (188)</text></g>
<g id="p154" transform="translate(624.1)"><use href="#G"/><text>p154 (76)</text></g>
<g id="p163" transform="translate(658.7)"><use href="#G"/><text>p163 (389)</text></g>
<g id="p172" transform="translate(693.4)"><use href="#G"/><text>p172 (0)</text></g>
<g id="p181" transform="translate(728)"><use href="#G"/><text>p181 (389)</text></g>
<g id="p190" transform="translate(762.7)"><use href="#G"/><text>p190 (272)</text></g>
<g id="p199" transform="translate(797.3)"><use href="#G"/><text>p199 (282)</text></g>
<g id="p208" transform="translate(832)"><use href="#G"/><text>p208 (172)</text></g>
<g id="p217" transform="translate(866.6)"><use href="#G"/><text>p217 (117)</text></g>
<g id="p226" transform="translate(901.3)"><use href="#G"/><text>p226 (389)</text></g>
<g id="p235" transform="translate(935.9)"><use href="#G"/><text>p235 (178)</text></g>
<g id="p244" transform="translate(970.6)"><use href="#G"/><text>p244 (178)</text></g>
<g id="p253" transform="translate(1005.2)"><use href="#G"/><text>p253 (389)</text></g>
<g id="p262" transform="translate(1039.9)"><use href="#G"/><text>p262 (248)</text></g>
<g id="p271" transform="translate(1074.5)"><use href="#G"/><text>p271 (132)</text></g>
<g id="p280" transform="translate(1109.2)"><use href="#G"/><text>p280 (117)</text></g>
<g id="p289" transform="translate(1143.8)"><use href="#G"/><text>p289 (232)</text></g>
<g id="p298" transform="translate(1178.5)"><use href="#G"/><text>p298 (248)</text></g>
<g id="p307" transform="translate(1213.1)"><use href="#G"/><text>p307 (232)</text></g>
<g id="p316" transform="translate(1247.8)"><use href="#G"/><text>p316 (267)</text></g>
<g id="p325" transform="translate(1282.4)"><use href="#G"/><text>p325 (233)</text></g>
<g id="p334" transform="translate(1317.1)"><use href="#G"/><text>p334 (288)</text></g>
<g id="p343" transform="translate(1351.7)"><use href="#G"/><text>p343 (112)</text></g>
<g id="p352" transform="translate(1386.4)"><use href="#G"/><text>p352 (296)</text></g>
<g id="p361" transform="translate(1421)"><use href="#G"/><text>p361 (89)</text></g>
<g id="p370" transform="translate(1455.7)"><use href="#G"/><text>p370 (85)</text></g>
<g id="p379" transform="translate(1490.3)"><use href="#G"/><text>p379 (267)</text></g>
<g id="p388" transform="translate(1525)"><use href="#G"/><text>p388 (113)</text></g>
<g id="p397" transform="translate(1559.6)"><use href="#G"/><text>p397 (82)</text></g>
<g id="p406" transform="translate(1594.3)"><use href="#G"/><text>p406 (178)</text></g>
<g id="p416" transform="translate(1628.9)"><use href="#X"/><use href="#G"/><text>p416 (213)</text></g>
<g id="p425" transform="translate(1663.6)"><use href="#G"/><text>p425 (288)</text></g>
<g id="p434" transform="translate(1698.2)"><use href="#X"/><use href="#G"/><text>p434 (178)</text></g>
<g id="p443" transform="translate(1732.9)"><use href="#G"/><text>p443 (126)</text></g>
<g id="p452" transform="translate(1767.5)"><use href="#G"/><text>p452 (182)</text></g>
<g id="p461" transform="translate(1802.2)"><use href="#G"/><text>p461 (213)</text></g>
<g id="p470" transform="translate(1836.8)"><use href="#G"/><text>p470 (158)</text></g>
<g id="p479" transform="translate(1871.5)"><use href="#G"/><text>p479 (221)</text></g>
<g id="p488" transform="translate(1906.1)"><use href="#G"/><text>p488 (56)</text></g>
<g id="p497" transform="translate(1940.8)"><use href="#G"/><text>p497 (181)</text></g>
<g id="p506" transform="translate(1975.4)"><use href="#G"/><text>p506 (329)</text></g>
<g id="p515" transform="translate(2010.1)"><use href="#B"/><text>p515 (0)</text></g>
</g>
<g class="r" id="row2" transform="translate(0 78.8)">
<g id="p2" transform="translate(35)"><use href="#G"/><text>p2 (0)</text></g>
<g id="p11" transform="translate(69.7)"><use href="#G"/><text>p11 (14)</text></g>
<g id="p20" transform="translate(104.3)"><use href="#G"/><text>p20 (0)</text></g>
<g id="p29" transform="translate(139)"><use href="#G"/><text>p29 (0)</text></g>
<g id="p38" transform="translate(173.6)"><use href="#G"/><text>p38 (28)</text></g>
<g id="p47" transform="translate(208.3)"><use href="#G"/><text>p47 (0)</text></g>
<g id="p56" transform="translate(242.9)"><use href="#G"/><text>p56 (0)</text></g>
<g id="p65" transform="translate(277.6)"><use href="#G"/><text>p65 (19)</text></g>
<g id="p74" transform="translate(312.2)"><use href="#G"/><text>p74 (116)</text></g>
<g id="p83" transform="translate(346.9)"><use href="#G"/><text>p83 (0)</text></g>
<g id="p92" transform="translate(381.5)"><use href="#G"/><text>p92 (34)</text></g>
<g id="p101" transform="translate(416.2)"><use href="#G"/><text>p101 (0)</text></g>
<g id="p110" transform="translate(450.8)"><use href="#G"/><text>p110 (28)</text></g>
<g id="p119" transform="translate(485.5)"><use href="#G"/><text>p119 (7)</text></g>
<g id="p128" transform="translate(520.1)"><use href="#G"/><text>p128 (29)</text></g>
<g id="p137" transform="translate(554.8)"><use href="#G"/><text>p137 (0)</text></g>
<g id="p146" transform="translate(589.4)"><use href="#G"/><text>p146 (0)</text></g>
<g id="p155" transform="translate(624.1)"><use href="#G"/><text>p155 (0)</text></g>
<g id="p164" transform="translate(658.7)"><use href="#G"/><text>p164 (0)</text></g>
<g id="p173" transform="translate(693.4)"><use href="#G"/><text>p173 (0)</text></g>
<g id="p182" transform="translate(728)"><use href="#G"/><text>p182 (26)</text></g>
<g id="p191" transform="translate(762.7)"><use href="#X"/><use href="#G"/><text>p191 (113)</text></g>
<g id="p200" transform="translate(797.3)"><use href="#G"/><text>p200 (0)</text></g>
<g id="p209" transform="translate(832)"><use href="#G"/><text>p209 (0)</text></g>
<g id="p218" transform="translate(866.6)"><use href="#G"/><text>p218 (0)</text></g>
<g id="p227" transform="translate(901.3)"><use href="#G"/><text>p227 (24)</text></g>
<g id="p236" transform="translate(935.9)"><use href="#G"/><text>p236 (6)</text></g>
<g id="p245" transform="translate(970.6)"><use href="#G"/><text>p245 (4)</text></g>
<g id="p254" transform="translate(1005.2)"><use href="#G"/><text>p254 (17)</text></g>
<g id="p263" transform="translate(1039.9)"><use href="#G"/><text>p263 (0)</text></g>
<g id="p272" transform="translate(1074.5)"><use href="#G"/><text>p272 (14)</text></g>
<g id="p281" transform="translate(1109.2)"><use href="#G"/><text>p281 (13)</text></g>
<g id="p290" transform="translate(1143.8)"><use href="#G"/><text>p290 (0)</text></g>
<g id="p299" transform="translate(1178.5)"><use href="#X"/><use href="#G"/><text>p299 (22)</text></g>
<g id="p308" transform="translate(1213.1)"><use href="#X"/><use href="#G"/><text>p308 (22)</text></g>
<g id="p317" transform="translate(1247.8)"><use href="#G"/><text>p317 (17)</text></g>
<g id="p326" transform="translate(1282.4)"><use href="#G"/><text>p326 (7)</text></g>
<g id="p335" transform="translate(1317.1)"><use href="#G"/><text>p335 (29)</text></g>
<g id="p344" transform="translate(1351.7)"><use href="#G"/><text>p344 (11)</text></g>
<g id="p353" transform="translate(1386.4)"><use href="#G"/><text>p353 (7)</text></g>
<g id="p362" transform="translate(1421)"><use href="#G"/><text>p362 (13)</text></g>
<g id="p371" transform="translate(1455.7)"><use href="#G"/><text>p371 (0)</text></g>
<g id="p380" transform="translate(1490.3)"><use href="#G"/><text>p380 (9)</text></g>
<g id="p389" transform="translate(1525)"><use href="#G"/><text>p389 (1)</text></g>
<g id="p398" transform="translate(1559.6)"><use href="#G"/><text>p398 (4)</text></g>
<g id="p407" transform="translate(1594.3)"><use href="#G"/><text>p407 (4)</text></g>
<g id="p417" transform="translate(1628.9)"><use href="#X"/><use href="#G"/><text>p417 (22)</text></g>
<g id="p426" transform="translate(1663.6)"><use href="#G"/><text>p426 (3)</text></g>
<g id="p435" transform="translate(1698.2)"><use href="#G"/><text>p435 (7)</text></g>
<g id="p444" transform="translate(1732.9)"><use href="#G"/><text>p444 (3)</text></g>
<g id="p453" transform="translate(1767.5)"><use href="#G"/><text>p453 (28)</text></g>
<g id="p462" transform="translate(1802.2)"><use href="#X"/><use href="#G"/><text>p462 (13)</text></g>
<g id="p471" transform="translate(1836.8)"><use href="#G"/><text>p471 (13)</text></g>
<g id="p480" transform="translate(1871.5)"><use href="#G"/><text>p480 (3)</text></g>
<g id="p489" transform="translate(1906.1)"><use href="#G"/><text>p489 (16)</text></g>
<g id="p498" transform="translate(1940.8)"><use href="#X"/><use href="#G"/><text>p498 (19)</text></g>
<g id="p507" transform="translate(1975.4)"><use href="#G"/><text>p507 (11)</text></g>
<g id="p516" transform="translate(2010.1)"><use href="#G"/><text>p516 (0)</text></g>
</g>
<g class="r" id="row3" transform="translate(0 110.9)">
<g id="p3" transform="translate(35)"><use href="#B"/><text>p3 (14)</text></g>
<g id="p12" transform="translate(69.7)"><use href="#B"/><text>p12 (27)</text></g>
<g id="p21" transform="translate(104.3)"><use href="#B"/><text>p21 (7)</text></g>
<g id="p30" transform="translate(139)"><use href="#B"/><text>p30 (0)</text></g>
<g id="p39" transform="translate(173.6)"><use href="#B"/><text>p39 (24)</text></g>
<g id="p48" transform="translate(208.3)"><use href="#B"/><text>p48 (14)</text></g>
<g id="p57" transform="translate(242.9)"><use href="#B"/><text>p57 (27)</text></g>
<g id="p66" transform="translate(277.6)"><use href="#B"/><text>p66 (0)</text></g>
<g id="p75" transform="translate(312.2)"><use href="#B"/><text>p75 (22)</text></g>
<g id="p84" transform="translate(346.9)"><use href="#B"/><text>p84 (29)</text></g>
<g id="p93" transform="translate(381.5)"><use href="#B"/><text>p93 (26)</text></g>
<g id="p102" transform="translate(416.2)"><use href="#B"/><text>p102 (28)</text></g>
<g id="p111" transform="translate(450.8)"><use href="#X"/><use href="#B"/><text>p111 (42)</text></g>
<g id="p120" transform="translate(485.5)"><use href="#B"/><text>p120 (13)</text></g>
<g id="p129" transform="translate(520.1)"><use href="#B"/><text>p129 (22)</text></g>
<g id="p138" transform="translate(554.8)"><use href="#B"/><text>p138 (22)</text></g>
<g id="p147" transform="translate(589.4)"><use href="#B"/><text>p147 (10)</text></g>
<g id="p156" transform="translate(624.1)"><use href="#B"/><text>p156 (0)</text></g>
<g id="p165" transform="translate(658.7)"><use href="#B"/><text>p165 (22)</text></g>
<g id="p174" transform="translate(693.4)"><use href="#B"/><text>p174 (6)</text></g>
<g id="p183" transform="translate(728)"><use href="#B"/><text>p183 (27)</text></g>
<g id="p192" transform="translate(762.7)"><use href="#B"/><text>p192 (22)</text></g>
<g id="p201" transform="translate(797.3)"><use href="#B"/><text>p201 (26)</text></g>
<g id="p210" transform="translate(832)"><use href="#B"/><text>p210 (21)</text></g>
<g id="p219" transform="translate(866.6)"><use href="#B"/><text>p219 (13)</text></g>
<g id="p228" transform="translate(901.3)"><use href="#B"/><text>p228 (8)</text></g>
<g id="p237" transform="translate(935.9)"><use href="#B"/><text>p237 (28)</text></g>
<g id="p246" transform="translate(970.6)"><use href="#B"/><text>p246 (0)</text></g>
<g id="p255" transform="translate(1005.2)"><use href="#B"/><text>p255 (8)</text></g>
<g id="p264" transform="translate(1039.9)"><use href="#B"/><text>p264 (3)</text></g>
<g id="p273" transform="translate(1074.5)"><use href="#B"/><text>p273 (5)</text></g>
<g id="p282" transform="translate(1109.2)"><use href="#B"/><text>p282 (22)</text></g>
<g id="p291" transform="translate(1143.8)"><use href="#B"/><text>p291 (21)</text></g>
<g id="p300" transform="translate(1178.5)"><use href="#B"/><text>p300 (23)</text></g>
<g id="p309" transform="translate(1213.1)"><use href="#B"/><text>p309 (20)</text></g>
<g id="p318" transform="translate(1247.8)"><use href="#B"/><text>p318 (20)</text></g>
<g id="p327" transform="translate(1282.4)"><use href="#B"/><text>p327 (29)</text></g>
<g id="p336" transform="translate(1317.1)"><use href="#X"/><use href="#B"/><text>p336 (21)</text></g>
<g id="p345" transform="translate(1351.7)"><use href="#B"/><text>p345 (11)</text></g>
<g id="p354" transform="translate(1386.4)"><use href="#X"/><use href="#B"/><text>p354 (18)</text></g>
<g id="p363" transform="translate(1421)"><use href="#B"/><text>p363 (28)</text></g>
<g id="p372" transform="translate(1455.7)"><use href="#B"/><text>p372 (9)</text></g>
<g id="p381" transform="translate(1490.3)"><use href="#B"/><text>p381 (6)</text></g>
<g id="p390" transform="translate(1525)"><use href="#B"/><text>p390 (20)</text></g>
<g id="p399" transform="translate(1559.6)"><use href="#B"/><text>p399 (9)</text></g>
<g id="p408" transform="translate(1594.3)"><use href="#X"/><use href="#B"/><text>p408 (21)</text></g>
<g id="p418" transform="translate(1628.9)"><use href="#B"/><text>p418 (20)</text></g>
<g id="p427" transform="translate(1663.6)"><use href="#B"/><text>p427 (13)</text></g>
<g id="p436" transform="translate(1698.2)"><use href="#B"/><text>p436 (12)</text></g>
<g id="p445" transform="translate(1732.9)"><use href="#X"/><use href="#B"/><text>p445 (12)</text></g>
<g id="p454" transform="translate(1767.5)"><use href="#B"/><text>p454 (3)</text></g>
<g id="p463" transform="translate(1802.2)"><use href="#X"/><use href="#B"/><text>p463 (23)</text></g>
<g id="p472" transform="translate(1836.8)"><use href="#B"/><text>p472 (0)</text></g>
<g id="p481" transform="translate(1871.5)"><use href="#X"/><use href="#B"/><text>p481 (22)</text></g>
<g id="p490" transform="translate(1906.1)"><use href="#B"/><text>p490 (5)</text></g>
<g id="p499" transform="translate(1940.8)"><use href="#X"/><use href="#B"/><text>p499 (23)</text></g>
<g id="p508" transform="translate(1975.4)"><use href="#B"/><text>p508 (8)</text></g>
<g id="p517" transform="translate(2010.1)"><use href="#B"/><text>p517 (7)</text></g>
</g>
<g class="r" id="row4" transform="translate(0 143)">
<g id="p4" transform="translate(35)"><use href="#C"/><text>p4 (24)</text></g>
<g id="p13" transform="translate(69.7)"><use href="#C"/><text>p13 (27)</text></g>
<g id="p22" transform="translate(104.3)"><use href="#C"/><text>p22 (0)</text></g>
<g id="p31" transform="translate(139)"><use href="#C"/><text>p31 (0)</text></g>
<g id="p40" transform="translate(173.6)"><use href="#C"/><text>p40 (14)</text></g>
<g id="p49" transform="translate(208.3)"><use href="#C"/><text>p49 (0)</text></g>
<g id="p58" transform="translate(242.9)"><use href="#C"/><text>p58 (0)</text></g>
<g id="p67" transform="translate(277.6)"><use href="#C"/><text>p67 (0)</text></g>
<g id="p76" transform="translate(312.2)"><use href="#C"/><text>p76 (0)</text></g>
<g id="p85" transform="translate(346.9)"><use href="#C"/><text>p85 (0)</text></g>
<g id="p94" transform="translate(381.5)"><use href="#C"/><text>p94 (28)</text></g>
<g id="p103" transform="translate(416.2)"><use href="#C"/><text>p103 (3)</text></g>
<g id="p112" transform="translate(450.8)"><use href="#C"/><text>p112 (0)</text></g>
<g id="p121" transform="translate(485.5)"><use href="#C"/><text>p121 (2)</text></g>
<g id="p130" transform="translate(520.1)"><use href="#C"/><text>p130 (7)</text></g>
<g id="p139" transform="translate(554.8)"><use href="#C"/><text>p139 (0)</text></g>
<g id="p148" transform="translate(589.4)"><use href="#C"/><text>p148 (0)</text></g>
<g id="p157" transform="translate(624.1)"><use href="#C"/><text>p157 (0)</text></g>
<g id="p166" transform="translate(658.7)"><use href="#C"/><text>p166 (0)</text></g>
<g id="p175" transform="translate(693.4)"><use href="#C"/><text>p175 (0)</text></g>
<g id="p184" transform="translate(728)"><use href="#X"/><use href="#C"/><text>p184 (13)</text></g>
<g id="p193" transform="translate(762.7)"><use href="#X"/><use href="#C"/><text>p193 (22)</text></g>
<g id="p202" transform="translate(797.3)"><use href="#C"/><text>p202 (2)</text></g>
<g id="p211" transform="translate(832)"><use href="#C"/><text>p211 (5)</text></g>
<g id="p220" transform="translate(866.6)"><use href="#C"/><text>p220 (0)</text></g>
<g id="p229" transform="translate(901.3)"><use href="#C"/><text>p229 (0)</text></g>
<g id="p238" transform="translate(935.9)"><use href="#X"/><use href="#C"/><text>p238 (11)</text></g>
<g id="p247" transform="translate(970.6)"><use href="#C"/><text>p247 (1)</text></g>
<g id="p256" transform="translate(1005.2)"><use href="#C"/><text>p256 (10)</text></g>
<g id="p265" transform="translate(1039.9)"><use href="#C"/><text>p265 (3)</text></g>
<g id="p274" transform="translate(1074.5)"><use href="#C"/><text>p274 (0)</text></g>
<g id="p283" transform="translate(1109.2)"><use href="#C"/><text>p283 (0)</text></g>
<g id="p292" transform="translate(1143.8)"><use href="#C"/><text>p292 (0)</text></g>
<g id="p301" transform="translate(1178.5)"><use href="#C"/><text>p301 (4)</text></g>
<g id="p310" transform="translate(1213.1)"><use href="#C"/><text>p310 (0)</text></g>
<g id="p319" transform="translate(1247.8)"><use href="#C"/><text>p319 (20)</text></g>
<g id="p328" transform="translate(1282.4)"><use href="#C"/><text>p328 (8)</text></g>
<g id="p337" transform="translate(1317.1)"><use href="#C"/><text>p337 (3)</text></g>
<g id="p346" transform="translate(1351.7)"><use href="#C"/><text>p346 (7)</text></g>
<g id="p355" transform="translate(1386.4)"><use href="#C"/><text>p355 (4)</text></g>
<g id="p364" transform="translate(1421)"><use href="#C"/><text>p364 (7)</text></g>
<g id="p373" transform="translate(1455.7)"><use href="#C"/><text>p373 (6)</text></g>
<g id="p382" transform="translate(1490.3)"><use href="#C"/><text>p382 (8)</text></g>
<g id="p391" transform="translate(1525)"><use href="#C"/><text>p391 (8)</text></g>
<g id="p400" transform="translate(1559.6)"><use href="#C"/><text>p400 (4)</text></g>
<g id="p409" transform="translate(1594.3)"><use href="#C"/><text>p409 (4)</text></g>
<g id="p419" transform="translate(1628.9)"><use href="#X"/><use href="#C"/><text>p419 (20)</text></g>
<g id="p428" transform="translate(1663.6)"><use href="#X"/><use href="#C"/><text>p428 (12)</text></g>
<g id="p437" transform="translate(1698.2)"><use href="#C"/><text>p437 (8)</text></g>
<g id="p446" transform="translate(1732.9)"><use href="#X"/><use href="#C"/><text>p446 (20)</text></g>
<g id="p455" transform="translate(1767.5)"><use href="#C"/><text>p455 (6)</text></g>
<g id="p464" transform="translate(1802.2)"><use href="#C"/><text>p464 (8)</text></g>
<g id="p473" transform="translate(1836.8)"><use href="#C"/><text>p473 (13)</text></g>
<g id="p482" transform="translate(1871.5)"><use href="#C"/><text>p482 (6)</text></g>
<g id="p491" transform="translate(1906.1)"><use href="#C"/><text>p491 (2)</text></g>
<g id="p500" transform="translate(1940.8)"><use href="#X"/><use href="#C"/><text>p500 (24)</text></g>
<g id="p509" transform="translate(1975.4)"><use href="#C"/><text>p509 (19)</text></g>
</g>
<g class="r" id="row5" transform="translate(0 175.1)">
<g id="p5" transform="translate(35)"><use href="#G"/><text>p5 (87)</text></g>
<g id="p14" transform="translate(69.7)"><use href="#G"/><text>p14 (28)</text></g>
<g id="p23" transform="translate(104.3)"><use href="#G"/><text>p23 (8)</text></g>
<g id="p32" transform="translate(139)"><use href="#G"/><text>p32 (22)</text></g>
<g id="p41" transform="translate(173.6)"><use href="#G"/><text>p41 (8)</text></g>
<g id="p50" transform="translate(208.3)"><use href="#G"/><text>p50 (25)</text></g>
<g id="p59" transform="translate(242.9)"><use href="#G"/><text>p59 (22)</text></g>
<g id="p68" transform="translate(277.6)"><use href="#G"/><text>p68 (0)</text></g>
<g id="p77" transform="translate(312.2)"><use href="#B"/><text>p77 (26)</text></g>
<g id="p86" transform="translate(346.9)"><use href="#G"/><text>p86 (0)</text></g>
<g id="p95" transform="translate(381.5)"><use href="#G"/><text>p95 (28)</text></g>
<g id="p104" transform="translate(416.2)"><use href="#R"/><text>p104 (29)</text></g>
<g id="p113" transform="translate(450.8)"><use href="#X"/><use href="#G"/><text>p113 (23)</text></g>
<g id="p122" transform="translate(485.5)"><use href="#G"/><text>p122 (13)</text></g>
<g id="p131" transform="translate(520.1)"><use href="#G"/><text>p131 (29)</text></g>
<g id="p140" transform="translate(554.8)"><use href="#X"/><use href="#G"/><text>p140 (14)</text></g>
<g id="p149" transform="translate(589.4)"><use href="#G"/><text>p149 (13)</text></g>
<g id="p158" transform="translate(624.1)"><use href="#R"/><text>p158 (0)</text></g>
<g id="p167" transform="translate(658.7)"><use href="#G"/><text>p167 (28)</text></g>
<g id="p176" transform="translate(693.4)"><use href="#R"/><text>p176 (0)</text></g>
<g id="p185" transform="translate(728)"><use href="#G"/><text>p185 (26)</text></g>
<g id="p194" transform="translate(762.7)"><use href="#G"/><text>p194 (2)</text></g>
<g id="p203" transform="translate(797.3)"><use href="#G"/><text>p203 (3)</text></g>
<g id="p212" transform="translate(832)"><use href="#X"/><use href="#G"/><text>p212 (16)</text></g>
<g id="p221" transform="translate(866.6)"><use href="#G"/><text>p221 (0)</text></g>
<g id="p230" transform="translate(901.3)"><use href="#G"/><text>p230 (9)</text></g>
<g id="p239" transform="translate(935.9)"><use href="#G"/><text>p239 (0)</text></g>
<g id="p248" transform="translate(970.6)"><use href="#G"/><text>p248 (5)</text></g>
<g id="p257" transform="translate(1005.2)"><use href="#G"/><text>p257 (24)</text></g>
<g id="p266" transform="translate(1039.9)"><use href="#G"/><text>p266 (14)</text></g>
<g id="p275" transform="translate(1074.5)"><use href="#G"/><text>p275 (2)</text></g>
<g id="p284" transform="translate(1109.2)"><use href="#G"/><text>p284 (23)</text></g>
<g id="p293" transform="translate(1143.8)"><use href="#G"/><text>p293 (17)</text></g>
<g id="p302" transform="translate(1178.5)"><use href="#G"/><text>p302 (7)</text></g>
<g id="p311" transform="translate(1213.1)"><use href="#G"/><text>p311 (8)</text></g>
<g id="p320" transform="translate(1247.8)"><use href="#G"/><text>p320 (7)</text></g>
<g id="p329" transform="translate(1282.4)"><use href="#X"/><use href="#G"/><text>p329 (22)</text></g>
<g id="p338" transform="translate(1317.1)"><use href="#G"/><text>p338 (24)</text></g>
<g id="p347" transform="translate(1351.7)"><use href="#G"/><text>p347 (13)</text></g>
<g id="p356" transform="translate(1386.4)"><use href="#G"/><text>p356 (6)</text></g>
<g id="p365" transform="translate(1421)"><use href="#G"/><text>p365 (8)</text></g>
<g id="p374" transform="translate(1455.7)"><use href="#G"/><text>p374 (7)</text></g>
<g id="p383" transform="translate(1490.3)"><use href="#G"/><text>p383 (2)</text></g>
<g id="p392" transform="translate(1525)"><use href="#G"/><text>p392 (4)</text></g>
<g id="p401" transform="translate(1559.6)"><use href="#G"/><text>p401 (5)</text></g>
<g id="p410" transform="translate(1594.3)"><use href="#X"/><use href="#G"/><text>p410 (23)</text></g>
<g id="p420" transform="translate(1628.9)"><use href="#X"/><use href="#G"/><text>p420 (29)</text></g>
<g id="p429" transform="translate(1663.6)"><use href="#X"/><use href="#G"/><text>p429 (20)</text></g>
<g id="p438" transform="translate(1698.2)"><use href="#X"/><use href="#G"/><text>p438 (13)</text></g>
<g id="p447" transform="translate(1732.9)"><use href="#G"/><text>p447 (11)</text></g>
<g id="p456" transform="translate(1767.5)"><use href="#X"/><use href="#G"/><text>p456 (17)</text></g>
<g id="p465" transform="translate(1802.2)"><use href="#G"/><text>p465 (7)</text></g>
<g id="p474" transform="translate(1836.8)"><use href="#X"/><use href="#G"/><text>p474 (19)</text></g>
<g id="p483" transform="translate(1871.5)"><use href="#G"/><text>p483 (6)</text></g>
<g id="p492" transform="translate(1906.1)"><use href="#X"/><use href="#G"/><text>p492 (22)</text></g>
<g id="p501" transform="translate(1940.8)"><use href="#G"/><text>p501 (8)</text></g>
<g id="p510" transform="translate(1975.4)"><use href="#G"/><text>p510 (20)</text></g>
</g>
<g class="r" id="row6" transform="translate(0 207.2)">
<g id="p6" transform="translate(35)"><use href="#G"/><text>p6 (0)</text></g>
<g id="p15" transform="translate(69.7)"><use href="#G"/><text>p15 (11)</text></g>
<g id="p24" transform="translate(104.3)"><use href="#G"/><text>p24 (0)</text></g>
<g id="p33" transform="translate(139)"><use href="#G"/><text>p33 (0)</text></g>
<g id="p42" transform="translate(173.6)"><use href="#G"/><text>p42 (21)</text></g>
<g id="p51" transform="translate(208.3)"><use href="#G"/><text>p51 (11)</text></g>
<g id="p60" transform="translate(242.9)"><use href="#G"/><text>p60 (22)</text></g>
<g id="p69" transform="translate(277.6)"><use href="#G"/><text>p69 (0)</text></g>
<g id="p78" transform="translate(312.2)"><use href="#B"/><text>p78 (8)</text></g>
<g id="p87" transform="translate(346.9)"><use href="#G"/><text>p87 (29)</text></g>
<g id="p96" transform="translate(381.5)"><use href="#G"/><text>p96 (28)</text></g>
<g id="p105" transform="translate(416.2)"><use href="#R"/><text>p105 (29)</text></g>
<g id="p114" transform="translate(450.8)"><use href="#G"/><text>p114 (17)</text></g>
<g id="p123" transform="translate(485.5)"><use href="#G"/><text>p123 (6)</text></g>
<g id="p132" transform="translate(520.1)"><use href="#G"/><text>p132 (8)</text></g>
<g id="p141" transform="translate(554.8)"><use href="#G"/><text>p141 (3)</text></g>
<g id="p150" transform="translate(589.4)"><use href="#G"/><text>p150 (14)</text></g>
<g id="p159" transform="translate(624.1)"><use href="#G"/><text>p159 (28)</text></g>
<g id="p168" transform="translate(658.7)"><use href="#G"/><text>p168 (24)</text></g>
<g id="p177" transform="translate(693.4)"><use href="#R"/><text>p177 (0)</text></g>
<g id="p186" transform="translate(728)"><use href="#G"/><text>p186 (28)</text></g>
<g id="p195" transform="translate(762.7)"><use href="#G"/><text>p195 (0)</text></g>
<g id="p204" transform="translate(797.3)"><use href="#G"/><text>p204 (9)</text></g>
<g id="p213" transform="translate(832)"><use href="#X"/><use href="#R"/><text>p213 (13)</text></g>
<g id="p222" transform="translate(866.6)"><use href="#G"/><text>p222 (8)</text></g>
<g id="p231" transform="translate(901.3)"><use href="#G"/><text>p231 (22)</text></g>
<g id="p240" transform="translate(935.9)"><use href="#X"/><use href="#G"/><text>p240 (16)</text></g>
<g id="p249" transform="translate(970.6)"><use href="#G"/><text>p249 (13)</text></g>
<g id="p258" transform="translate(1005.2)"><use href="#X"/><use href="#G"/><text>p258 (21)</text></g>
<g id="p267" transform="translate(1039.9)"><use href="#G"/><text>p267 (8)</text></g>
<g id="p276" transform="translate(1074.5)"><use href="#G"/><text>p276 (18)</text></g>
<g id="p285" transform="translate(1109.2)"><use href="#X"/><use href="#G"/><text>p285 (24)</text></g>
<g id="p294" transform="translate(1143.8)"><use href="#G"/><text>p294 (20)</text></g>
<g id="p303" transform="translate(1178.5)"><use href="#G"/><text>p303 (0)</text></g>
<g id="p312" transform="translate(1213.1)"><use href="#G"/><text>p312 (22)</text></g>
<g id="p321" transform="translate(1247.8)"><use href="#G"/><text>p321 (8)</text></g>
<g id="p330" transform="translate(1282.4)"><use href="#G"/><text>p330 (0)</text></g>
<g id="p339" transform="translate(1317.1)"><use href="#G"/><text>p339 (8)</text></g>
<g id="p348" transform="translate(1351.7)"><use href="#X"/><use href="#G"/><text>p348 (20)</text></g>
<g id="p357" transform="translate(1386.4)"><use href="#G"/><text>p357 (29)</text></g>
<g id="p366" transform="translate(1421)"><use href="#G"/><text>p366 (26)</text></g>
<g id="p375" transform="translate(1455.7)"><use href="#X"/><use href="#G"/><text>p375 (17)</text></g>
<g id="p384" transform="translate(1490.3)"><use href="#G"/><text>p384 (8)</text></g>
<g id="p393" transform="translate(1525)"><use href="#G"/><text>p393 (7)</text></g>
<g id="p402" transform="translate(1559.6)"><use href="#G"/><text>p402 (2)</text></g>
<g id="p411" transform="translate(1594.3)"><use href="#X"/><use href="#G"/><text>p411 (13)</text></g>
<g id="p421" transform="translate(1628.9)"><use href="#X"/><use href="#G"/><text>p421 (25)</text></g>
<g id="p430" transform="translate(1663.6)"><use href="#G"/><text>p430 (28)</text></g>
<g id="p439" transform="translate(1698.2)"><use href="#G"/><text>p439 (22)</text></g>
<g id="p448" transform="translate(1732.9)"><use href="#X"/><use href="#G"/><text>p448 (24)</text></g>
<g id="p457" transform="translate(1767.5)"><use href="#X"/><use href="#G"/><text>p457 (18)</text></g>
<g id="p466" transform="translate(1802.2)"><use href="#X"/><use href="#G"/><text>p466 (22)</text></g>
<g id="p475" transform="translate(1836.8)"><use href="#G"/><text>p475 (8)</text></g>
<g id="p484" transform="translate(1871.5)"><use href="#X"/><use href="#G"/><text>p484 (23)</text></g>
<g id="p493" transform="translate(1906.1)"><use href="#X"/><use href="#G"/><text>p493 (21)</text></g>
<g id="p502" transform="translate(1940.8)"><use href="#G"/><text>p502 (8)</text></g>
<g id="p511" transform="translate(1975.4)"><use href="#X"/><use href="#G"/><text>p511 (22)</text></g>
</g>
<g class="r" id="row7" transform="translate(0 239.3)">
<g id="p7" transform="translate(35)"><use href="#G"/><text>p7 (126)</text></g>
<g id="p16" transform="translate(69.7)"><use href="#G"/><text>p16 (22)</text></g>
<g id="p25" transform="translate(104.3)"><use href="#G"/><text>p25 (24)</text></g>
<g id="p34" transform="translate(139)"><use href="#G"/><text>p34 (0)</text></g>
<g id="p43" transform="translate(173.6)"><use href="#G"/><text>p43 (13)</text></g>
<g id="p52" transform="translate(208.3)"><use href="#G"/><text>p52 (12)</text></g>
<g id="p61" transform="translate(242.9)"><use href="#G"/><text>p61 (26)</text></g>
<g id="p70" transform="translate(277.6)"><use href="#G"/><text>p70 (0)</text></g>
<g id="p79" transform="translate(312.2)"><use href="#X"/><use href="#B"/><text>p79 (26)</text></g>
<g id="p88" transform="translate(346.9)"><use href="#G"/><text>p88 (1)</text></g>
<g id="p97" transform="translate(381.5)"><use href="#G"/><text>p97 (6)</text></g>
<g id="p106" transform="translate(416.2)"><use href="#X"/><use href="#G"/><text>p106 (22)</text></g>
<g id="p115" transform="translate(450.8)"><use href="#G"/><text>p115 (25)</text></g>
<g id="p124" transform="translate(485.5)"><use href="#G"/><text>p124 (14)</text></g>
<g id="p133" transform="translate(520.1)"><use href="#G"/><text>p133 (26)</text></g>
<g id="p142" transform="translate(554.8)"><use href="#G"/><text>p142 (14)</text></g>
<g id="p151" transform="translate(589.4)"><use href="#G"/><text>p151 (0)</text></g>
<g id="p160" transform="translate(624.1)"><use href="#G"/><text>p160 (0)</text></g>
<g id="p169" transform="translate(658.7)"><use href="#G"/><text>p169 (28)</text></g>
<g id="p178" transform="translate(693.4)"><use href="#G"/><text>p178 (6)</text></g>
<g id="p187" transform="translate(728)"><use href="#G"/><text>p187 (25)</text></g>
<g id="p196" transform="translate(762.7)"><use href="#G"/><text>p196 (28)</text></g>
<g id="p205" transform="translate(797.3)"><use href="#G"/><text>p205 (0)</text></g>
<g id="p214" transform="translate(832)"><use href="#R"/><text>p214 (1)</text></g>
<g id="p223" transform="translate(866.6)"><use href="#G"/><text>p223 (20)</text></g>
<g id="p232" transform="translate(901.3)"><use href="#G"/><text>p232 (8)</text></g>
<g id="p241" transform="translate(935.9)"><use href="#G"/><text>p241 (22)</text></g>
<g id="p250" transform="translate(970.6)"><use href="#G"/><text>p250 (21)</text></g>
<g id="p259" transform="translate(1005.2)"><use href="#G"/><text>p259 (24)</text></g>
<g id="p268" transform="translate(1039.9)"><use href="#G"/><text>p268 (8)</text></g>
<g id="p277" transform="translate(1074.5)"><use href="#G"/><text>p277 (8)</text></g>
<g id="p286" transform="translate(1109.2)"><use href="#G"/><text>p286 (0)</text></g>
<g id="p295" transform="translate(1143.8)"><use href="#G"/><text>p295 (22)</text></g>
<g id="p304" transform="translate(1178.5)"><use href="#G"/><text>p304 (13)</text></g>
<g id="p313" transform="translate(1213.1)"><use href="#X"/><use href="#G"/><text>p313 (25)</text></g>
<g id="p322" transform="translate(1247.8)"><use href="#G"/><text>p322 (17)</text></g>
<g id="p331" transform="translate(1282.4)"><use href="#G"/><text>p331 (20)</text></g>
<g id="p340" transform="translate(1317.1)"><use href="#G"/><text>p340 (29)</text></g>
<g id="p349" transform="translate(1351.7)"><use href="#G"/><text>p349 (22)</text></g>
<g id="p358" transform="translate(1386.4)"><use href="#G"/><text>p358 (28)</text></g>
<g id="p367" transform="translate(1421)"><use href="#G"/><text>p367 (7)</text></g>
<g id="p376" transform="translate(1455.7)"><use href="#G"/><text>p376 (3)</text></g>
<g id="p385" transform="translate(1490.3)"><use href="#G"/><text>p385 (8)</text></g>
<g id="p394" transform="translate(1525)"><use href="#G"/><text>p394 (1)</text></g>
<g id="p403" transform="translate(1559.6)"><use href="#G"/><text>p403 (4)</text></g>
<g id="p412" transform="translate(1594.3)"><use href="#G"/><text>p412 (2)</text></g>
<g id="p422" transform="translate(1628.9)"><use href="#X"/><use href="#G"/><text>p422 (24)</text></g>
<g id="p431" transform="translate(1663.6)"><use href="#G"/><text>p431 (6)</text></g>
<g id="p440" transform="translate(1698.2)"><use href="#G"/><text>p440 (15)</text></g>
<g id="p449" transform="translate(1732.9)"><use href="#X"/><use href="#G"/><text>p449 (27)</text></g>
<g id="p458" transform="translate(1767.5)"><use href="#G"/><text>p458 (24)</text></g>
<g id="p467" transform="translate(1802.2)"><use href="#X"/><use href="#G"/><text>p467 (23)</text></g>
<g id="p476" transform="translate(1836.8)"><use href="#G"/><text>p476 (2)</text></g>
<g id="p485" transform="translate(1871.5)"><use href="#X"/><use href="#G"/><text>p485 (22)</text></g>
<g id="p494" transform="translate(1906.1)"><use href="#G"/><text>p494 (3)</text></g>
<g id="p503" transform="translate(1940.8)"><use href="#X"/><use href="#G"/><text>p503 (22)</text></g>
<g id="p512" transform="translate(1975.4)"><use href="#X"/><use href="#G"/><text>p512 (22)</text></g>
</g>
<g class="r" id="row8" transform="translate(0 271.4)">
<g id="p8" transform="translate(35)"><use href="#G"/><text>p8 (28)</text></g>
<g id="p17" transform="translate(69.7)"><use href="#G"/><text>p17 (28)</text></g>
<g id="p26" transform="translate(104.3)"><use href="#G"/><text>p26 (28)</text></g>
<g id="p35" transform="translate(139)"><use href="#G"/><text>p35 (17)</text></g>
<g id="p44" transform="translate(173.6)"><use href="#G"/><text>p44 (13)</text></g>
<g id="p53" transform="translate(208.3)"><use href="#G"/><text>p53 (28)</text></g>
<g id="p62" transform="translate(242.9)"><use href="#G"/><text>p62 (22)</text></g>
<g id="p71" transform="translate(277.6)"><use href="#G"/><text>p71 (0)</text></g>
<g id="p80" transform="translate(312.2)"><use href="#B"/><text>p80 (28)</text></g>
<g id="p89" transform="translate(346.9)"><use href="#G"/><text>p89 (7)</text></g>
<g id="p98" transform="translate(381.5)"><use href="#G"/><text>p98 (2)</text></g>
<g id="p107" transform="translate(416.2)"><use href="#G"/><text>p107 (2)</text></g>
<g id="p116" transform="translate(450.8)"><use href="#X"/><use href="#G"/><text>p116 (22)</text></g>
<g id="p125" transform="translate(485.5)"><use href="#G"/><text>p125 (28)</text></g>
<g id="p134" transform="translate(520.1)"><use href="#G"/><text>p134 (22)</text></g>
<g id="p143" transform="translate(554.8)"><use href="#X"/><use href="#G"/><text>p143 (28)</text></g>
<g id="p152" transform="translate(589.4)"><use href="#G"/><text>p152 (8)</text></g>
<g id="p161" transform="translate(624.1)"><use href="#G"/><text>p161 (0)</text></g>
<g id="p170" transform="translate(658.7)"><use href="#G"/><text>p170 (28)</text></g>
<g id="p179" transform="translate(693.4)"><use href="#G"/><text>p179 (28)</text></g>
<g id="p188" transform="translate(728)"><use href="#G"/><text>p188 (28)</text></g>
<g id="p197" transform="translate(762.7)"><use href="#G"/><text>p197 (22)</text></g>
<g id="p206" transform="translate(797.3)"><use href="#G"/><text>p206 (26)</text></g>
<g id="p215" transform="translate(832)"><use href="#G"/><text>p215 (2)</text></g>
<g id="p224" transform="translate(866.6)"><use href="#X"/><use href="#G"/><text>p224 (13)</text></g>
<g id="p233" transform="translate(901.3)"><use href="#G"/><text>p233 (8)</text></g>
<g id="p242" transform="translate(935.9)"><use href="#G"/><text>p242 (28)</text></g>
<g id="p251" transform="translate(970.6)"><use href="#X"/><use href="#G"/><text>p251 (28)</text></g>
<g id="p260" transform="translate(1005.2)"><use href="#X"/><use href="#G"/><text>p260 (28)</text></g>
<g id="p269" transform="translate(1039.9)"><use href="#X"/><use href="#G"/><text>p269 (26)</text></g>
<g id="p278" transform="translate(1074.5)"><use href="#G"/><text>p278 (21)</text></g>
<g id="p287" transform="translate(1109.2)"><use href="#G"/><text>p287 (13)</text></g>
<g id="p296" transform="translate(1143.8)"><use href="#X"/><use href="#G"/><text>p296 (29)</text></g>
<g id="p305" transform="translate(1178.5)"><use href="#G"/><text>p305 (5)</text></g>
<g id="p314" transform="translate(1213.1)"><use href="#G"/><text>p314 (3)</text></g>
<g id="p323" transform="translate(1247.8)"><use href="#G"/><text>p323 (13)</text></g>
<g id="p332" transform="translate(1282.4)"><use href="#G"/><text>p332 (7)</text></g>
<g id="p341" transform="translate(1317.1)"><use href="#X"/><use href="#G"/><text>p341 (24)</text></g>
<g id="p350" transform="translate(1351.7)"><use href="#X"/><use href="#G"/><text>p350 (21)</text></g>
<g id="p359" transform="translate(1386.4)"><use href="#G"/><text>p359 (3)</text></g>
<g id="p368" transform="translate(1421)"><use href="#G"/><text>p368 (8)</text></g>
<g id="p377" transform="translate(1455.7)"><use href="#G"/><text>p377 (7)</text></g>
<g id="p386" transform="translate(1490.3)"><use href="#G"/><text>p386 (6)</text></g>
<g id="p395" transform="translate(1525)"><use href="#G"/><text>p395 (4)</text></g>
<g id="p404" transform="translate(1559.6)"><use href="#G"/><text>p404 (13)</text></g>
<g id="p413" transform="translate(1594.3)"><use href="#G"/><text>p413 (5)</text></g>
<g id="p423" transform="translate(1628.9)"><use href="#X"/><use href="#G"/><text>p423 (22)</text></g>
<g id="p432" transform="translate(1663.6)"><use href="#G"/><text>p432 (13)</text></g>
<g id="p441" transform="translate(1698.2)"><use href="#G"/><text>p441 (28)</text></g>
<g id="p450" transform="translate(1732.9)"><use href="#X"/><use href="#G"/><text>p450 (22)</text></g>
<g id="p459" transform="translate(1767.5)"><use href="#G"/><text>p459 (28)</text></g>
<g id="p468" transform="translate(1802.2)"><use href="#X"/><use href="#G"/><text>p468 (22)</text></g>
<g id="p477" transform="translate(1836.8)"><use href="#X"/><use href="#G"/><text>p477 (29)</text></g>
<g id="p486" transform="translate(1871.5)"><use href="#X"/><use href="#G"/><text>p486 (29)</text></g>
<g id="p495" transform="translate(1906.1)"><use href="#G"/><text>p495 (9)</text></g>
<g id="p504" transform="translate(1940.8)"><use href="#X"/><use href="#G"/><text>p504 (22)</text></g>
<g id="p513" transform="translate(1975.4)"><use href="#G"/><text>p513 (29)</text></g>
</g>
<g class="r" id="row9" transform="translate(0 303.5)">
<g id="p9" transform="translate(35)"><use href="#G"/><text>p9 (0)</text></g>
<g id="p18" transform="translate(69.7)"><use href="#G"/><text>p18 (47)</text></g>
<g id="p27" transform="translate(104.3)"><use href="#G"/><text>p27 (21)</text></g>
<g id="p36" transform="translate(139)"><use href="#G"/><text>p36 (26)</text></g>
<g id="p45" transform="translate(173.6)"><use href="#G"/><text>p45 (46)</text></g>
<g id="p54" transform="translate(208.3)"><use href="#G"/><text>p54 (21)</text></g>
<g id="p63" transform="translate(242.9)"><use href="#G"/><text>p63 (29)</text></g>
<g id="p72" transform="translate(277.6)"><use href="#G"/><text>p72 (0)</text></g>
<g id="p81" transform="translate(312.2)"><use href="#D"/><text>p81 (0)</text></g>
<g id="p90" transform="translate(346.9)"><use href="#G"/><text>p90 (28)</text></g>
<g id="p99" transform="translate(381.5)"><use href="#G"/><text>p99 (26)</text></g>
<g id="p108" transform="translate(416.2)"><use href="#G"/><text>p108 (28)</text></g>
<g id="p117" transform="translate(450.8)"><use href="#G"/><text>p117 (28)</text></g>
<g id="p126" transform="translate(485.5)"><use href="#G"/><text>p126 (13)</text></g>
<g id="p135" transform="translate(520.1)"><use href="#G"/><text>p135 (28)</text></g>
<g id="p144" transform="translate(554.8)"><use href="#G"/><text>p144 (22)</text></g>
<g id="p153" transform="translate(589.4)"><use href="#G"/><text>p153 (13)</text></g>
<g id="p162" transform="translate(624.1)"><use href="#G"/><text>p162 (8)</text></g>
<g id="p171" transform="translate(658.7)"><use href="#G"/><text>p171 (28)</text></g>
<g id="p180" transform="translate(693.4)"><use href="#G"/><text>p180 (28)</text></g>
<g id="p189" transform="translate(728)"><use href="#G"/><text>p189 (29)</text></g>
<g id="p198" transform="translate(762.7)"><use href="#G"/><text>p198 (28)</text></g>
<g id="p207" transform="translate(797.3)"><use href="#G"/><text>p207 (22)</text></g>
<g id="p216" transform="translate(832)"><use href="#G"/><text>p216 (28)</text></g>
<g id="p225" transform="translate(866.6)"><use href="#R"/><text>p225 (0)</text></g>
<g id="p234" transform="translate(901.3)"><use href="#R"/><text>p234 (0)</text></g>
<g id="p243" transform="translate(935.9)"><use href="#G"/><text>p243 (11)</text></g>
<g id="p252" transform="translate(970.6)"><use href="#G"/><text>p252 (28)</text></g>
<g id="p261" transform="translate(1005.2)"><use href="#G"/><text>p261 (29)</text></g>
<g id="p270" transform="translate(1039.9)"><use href="#X"/><use href="#G"/><text>p270 (22)</text></g>
<g id="p279" transform="translate(1074.5)"><use href="#G"/><text>p279 (13)</text></g>
<g id="p288" transform="translate(1109.2)"><use href="#G"/><text>p288 (11)</text></g>
<g id="p297" transform="translate(1143.8)"><use href="#G"/><text>p297 (21)</text></g>
<g id="p306" transform="translate(1178.5)"><use href="#G"/><text>p306 (8)</text></g>
<g id="p315" transform="translate(1213.1)"><use href="#G"/><text>p315 (28)</text></g>
<g id="p324" transform="translate(1247.8)"><use href="#G"/><text>p324 (28)</text></g>
<g id="p333" transform="translate(1282.4)"><use href="#G"/><text>p333 (27)</text></g>
<g id="p342" transform="translate(1317.1)"><use href="#X"/><use href="#G"/><text>p342 (28)</text></g>
<g id="p351" transform="translate(1351.7)"><use href="#G"/><text>p351 (22)</text></g>
<g id="p360" transform="translate(1386.4)"><use href="#G"/><text>p360 (28)</text></g>
<g id="p369" transform="translate(1421)"><use href="#G"/><text>p369 (11)</text></g>
<g id="p378" transform="translate(1455.7)"><use href="#G"/><text>p378 (13)</text></g>
<g id="p387" transform="translate(1490.3)"><use href="#G"/><text>p387 (12)</text></g>
<g id="p396" transform="translate(1525)"><use href="#G"/><text>p396 (13)</text></g>
<g id="p405" transform="translate(1559.6)"><use href="#G"/><text>p405 (8)</text></g>
<g id="p414" transform="translate(1594.3)"><use href="#G"/><text>p414 (5)</text></g>
<g id="p424" transform="translate(1628.9)"><use href="#X"/><use href="#G"/><text>p424 (28)</text></g>
<g id="p433" transform="translate(1663.6)"><use href="#G"/><text>p433 (28)</text></g>
<g id="p442" transform="translate(1698.2)"><use href="#G"/><text>p442 (28)</text></g>
<g id="p451" transform="translate(1732.9)"><use href="#X"/><use href="#G"/><text>p451 (28)</text></g>
<g id="p460" transform="translate(1767.5)"><use href="#G"/><text>p460 (21)</text></g>
<g id="p469" transform="translate(1802.2)"><use href="#G"/><text>p469 (11)</text></g>
<g id="p478" transform="translate(1836.8)"><use href="#G"/><text>p478 (21)</text></g>
<g id="p487" transform="translate(1871.5)"><use href="#G"/><text>p487 (28)</text></g>
<g id="p496" transform="translate(1906.1)"><use href="#X"/><use href="#G"/><text>p496 (29)</text></g>
<g id="p505" transform="translate(1940.8)"><use href="#X"/><use href="#G"/><text>p505 (22)</text></g>
<g id="p514" transform="translate(1975.4)"><use href="#X"/><use href="#G"/><text>p514 (19)</text></g>
</g>
<g class="r" id="row10" transform="translate(0 335.6)">
<g id="p415" transform="translate(1594.3)"><use href="#G"/><text>p415 (28)</text></g>
</g>
</g>
</svg>
